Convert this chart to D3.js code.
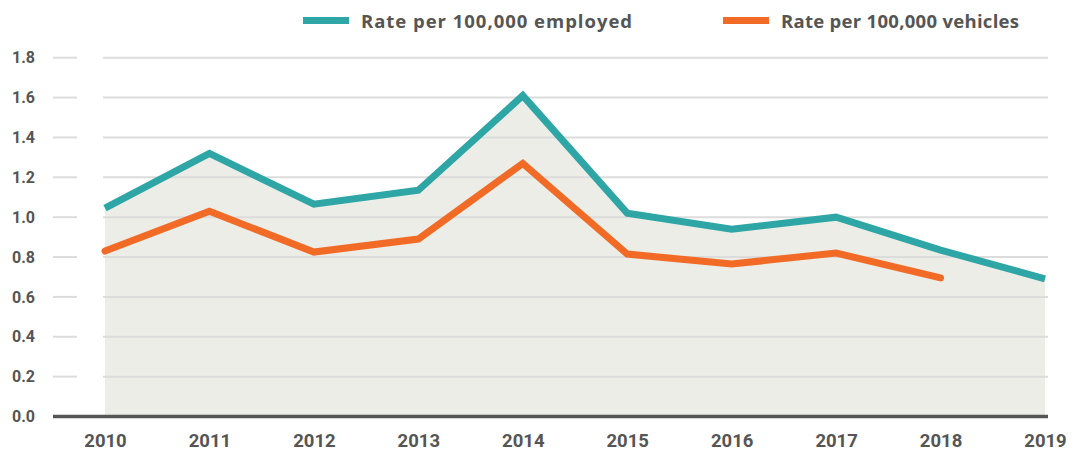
<!DOCTYPE html>
<html><head><meta charset="utf-8">
<script src="https://cdn.jsdelivr.net/npm/d3@7"></script>
<style>html,body{margin:0;padding:0;background:#fff;}svg{display:block;}</style>
</head><body>
<svg id="chart" width="1078" height="469"></svg>
<script>
const years = [2010, 2011, 2012, 2013, 2014, 2015, 2016, 2017, 2018, 2019];
const employed = [1.045, 1.32, 1.065, 1.135, 1.61, 1.02, 0.94, 1.0, 0.835, 0.69];
const vehicles = [0.83, 1.03, 0.825, 0.89, 1.27, 0.815, 0.765, 0.82, 0.695];
const yTicks = [0, 0.2, 0.4, 0.6, 0.8, 1.0, 1.2, 1.4, 1.6, 1.8];
const seriesNames = ["Rate per 100,000 employed", "Rate per 100,000 vehicles"];
const colors = ["#2ea6a6", "#f26b26"];

const svg = d3.select("#chart");
const x = d3.scaleLinear().domain([2010, 2019]).range([105, 1045]);
const y = d3.scaleLinear().domain([0, 1.8]).range([416.5, 57.7]);
const font = "Roboto, 'Noto Sans', sans-serif";
const legendFont = "'Open Sans', Roboto, sans-serif";

// area fill
svg.append("path")
  .datum(employed)
  .attr("fill", "#ecede7")
  .attr("d", d3.area().x((d, i) => x(years[i])).y0(y(0)).y1(d => y(d)));

// gridlines
const grid = svg.append("g");
yTicks.filter(t => t > 0).forEach(t => {
  grid.append("line").attr("x1", 53).attr("x2", 77).attr("y1", y(t)).attr("y2", y(t))
    .attr("stroke", "#dcdcdc").attr("stroke-width", 2);
  grid.append("line").attr("x1", 103).attr("x2", 1048).attr("y1", y(t)).attr("y2", y(t))
    .attr("stroke", "#dcdcdc").attr("stroke-width", 2);
});

// y axis labels
const yAxis = d3.axisLeft(y).tickValues(yTicks).tickFormat(d3.format(".1f")).tickSize(0);
const yg = svg.append("g").attr("transform", "translate(12,0)").call(yAxis);
yg.select(".domain").remove();
yg.selectAll("text").attr("text-anchor", "start").attr("x", 0).attr("dy", "0.32em")
  .attr("fill", "#555").style("font-family", font).style("font-weight", 700).style("font-size", "16px");

// baseline
svg.append("line").attr("x1", 53).attr("x2", 1048).attr("y1", y(0)).attr("y2", y(0))
  .attr("stroke", "#555").attr("stroke-width", 3.5);

// x axis labels
const xAxis = d3.axisBottom(x).tickValues(years).tickFormat(d3.format("d")).tickSize(0);
const xg = svg.append("g").attr("transform", "translate(0,441)").call(xAxis);
xg.select(".domain").remove();
xg.selectAll("text").attr("y", 0).attr("dy", "0.35em")
  .attr("fill", "#555").style("font-family", font).style("font-weight", 700).style("font-size", "18.5px");

// lines
const line = d3.line().x((d, i) => x(years[i])).y(d => y(d));
svg.append("path").datum(vehicles).attr("fill", "none").attr("stroke", colors[1])
  .attr("stroke-width", 7).attr("stroke-linejoin", "miter").attr("stroke-linecap", "round").attr("d", line);
svg.append("path").datum(employed).attr("fill", "none").attr("stroke", colors[0])
  .attr("stroke-width", 7).attr("stroke-linejoin", "miter").attr("stroke-linecap", "butt").attr("d", line);

// legend
const legendX = [303, 723];
const legendTextW = [271, 238];
const legend = svg.append("g");
seriesNames.forEach((name, i) => {
  legend.append("rect").attr("x", legendX[i]).attr("y", 17).attr("width", 46).attr("height", 7).attr("fill", colors[i]);
  const t = legend.append("text").attr("x", legendX[i] + 58).attr("y", 27.5).text(name)
    .attr("fill", "#555").style("font-family", legendFont).style("font-weight", 700).style("font-size", "18.5px");
  const w = t.node().getComputedTextLength();
  const ls = (legendTextW[i] - w) / (name.length - 1);
  t.style("letter-spacing", ls + "px");
});
</script>
</body></html>
